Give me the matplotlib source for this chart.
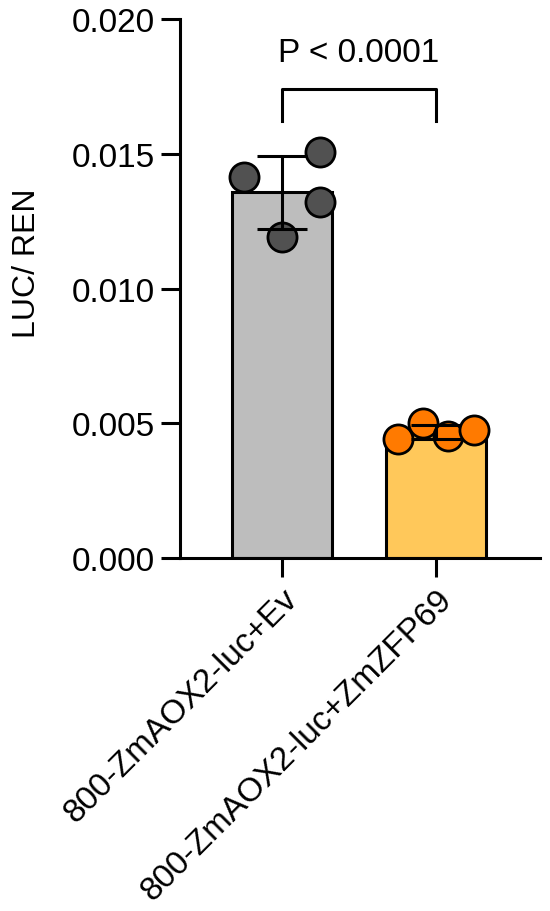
import numpy as np
import matplotlib.pyplot as plt

plt.rcParams['font.family'] = ['Liberation Sans', 'DejaVu Sans']

# data
grupos = ['800-ZmAOX2-luc+Ev', '800-ZmAOX2-luc+ZmZFP69']
ev_vals = [0.01413, 0.01506, 0.01320, 0.01190]
zfp_vals = [0.00442, 0.00502, 0.00453, 0.00476]
ev_jitter = [-0.247, 0.247, 0.247, 0.0]
zfp_jitter = [-0.247, -0.084, 0.078, 0.247]
p_texto = 'P < 0.0001'

cores_barra = ['#bdbdbd', '#ffc85a']
cores_ponto = ['#515151', '#ff7a00']

fig = plt.figure(figsize=(5.5, 9.12), dpi=100)
ax = fig.add_axes([0.327, 0.387, 0.655, 0.591])

x = np.arange(len(grupos))
series = [ev_vals, zfp_vals]
jitters = [ev_jitter, zfp_jitter]
medias = [np.mean(s) for s in series]
dps = [np.std(s, ddof=1) for s in series]

# barras
ax.bar(x, medias, width=0.65, color=cores_barra, edgecolor='black', linewidth=2.2, zorder=1)

# pontos individuais
for i in range(len(grupos)):
    ax.scatter(x[i] + np.array(jitters[i]), series[i], s=440, color=cores_ponto[i],
               edgecolor='black', linewidth=2.0, zorder=2, clip_on=False)

# barra de erro (media +- DP)
ax.errorbar(x, medias, yerr=dps, fmt='none', ecolor='black', elinewidth=2.2,
            capsize=18, capthick=2.2, zorder=3)

# colchete de significancia
y_col = 0.0174
ax.plot([x[0], x[0], x[1], x[1]], [y_col - 0.0012, y_col, y_col, y_col - 0.0012],
        color='black', linewidth=2.2, clip_on=False)
ax.text(np.mean(x), 0.01877, p_texto, ha='center', va='center', fontsize=24)

ax.set_xlim(-0.662, 1.675)
ax.set_ylim(0, 0.020)
ax.set_yticks([0.000, 0.005, 0.010, 0.015, 0.020])
ax.set_yticklabels(['0.000', '0.005', '0.010', '0.015', '0.020'])
ax.set_xticks(x)
ax.set_xticklabels(grupos, rotation=45, ha='right', rotation_mode='anchor')
fig.text(27 / 550, 1 - 263 / 912, 'LUC/ REN', rotation=90, ha='center', va='center', fontsize=23)

ax.spines['top'].set_visible(False)
ax.spines['right'].set_visible(False)
ax.spines['left'].set_linewidth(2.2)
ax.spines['bottom'].set_linewidth(2.2)
ax.tick_params(axis='both', width=2.2, length=14, labelsize=24, pad=4)

fig.savefig('out.png', dpi=100)
